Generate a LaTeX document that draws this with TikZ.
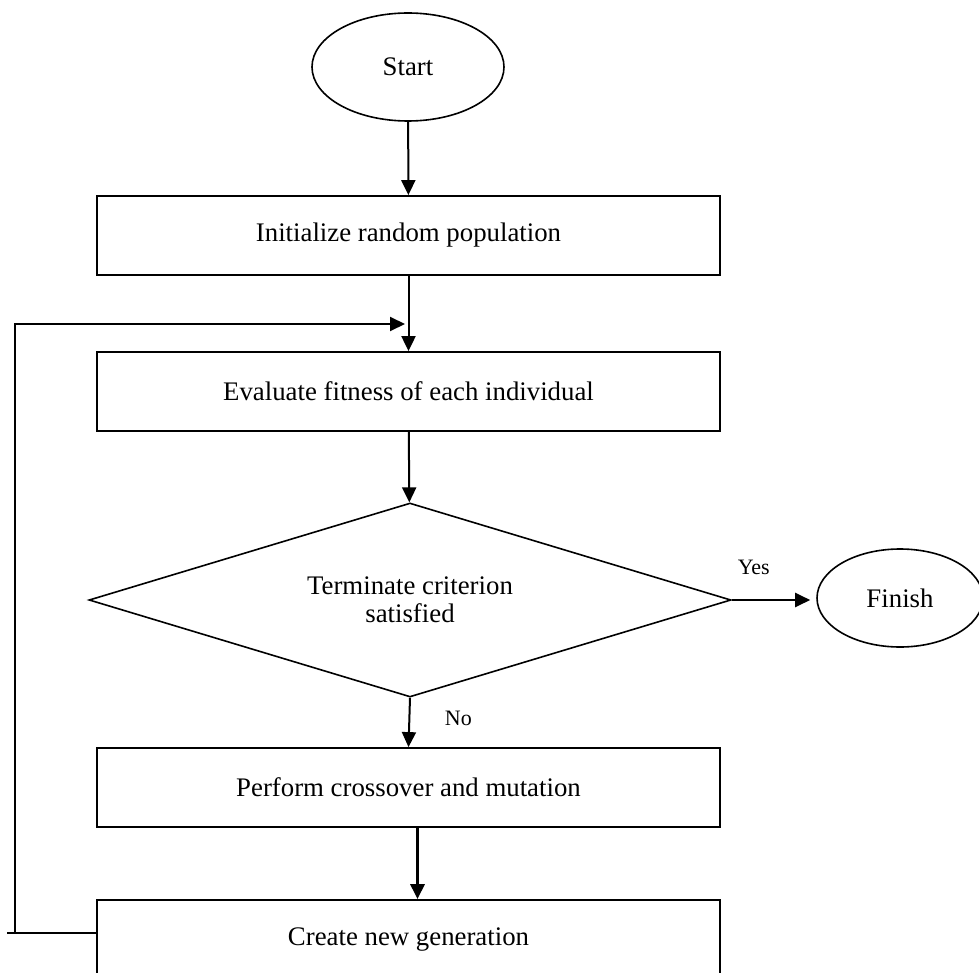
\documentclass[tikz,border=0pt]{standalone}
\usepackage{fontspec}
\setmainfont{Liberation Serif}
\usetikzlibrary{shapes.geometric,arrows.meta}
\tikzset{
  box/.style={draw,line width=0.9pt,minimum width=311.5pt,minimum height=39.5pt,font=\fontsize{13.4}{15}\selectfont},
  oval/.style={draw,ellipse,line width=0.8pt,font=\fontsize{13.4}{15}\selectfont},
  test/.style={draw,diamond,aspect=3.3,line width=0.8pt,minimum width=321pt,minimum height=97pt,inner sep=0pt,align=center,font=\fontsize{13.4}{15}\selectfont},
  arr/.style={line width=1pt,-{Triangle[length=7.5pt,width=7pt]}},
  lbl/.style={font=\fontsize{11}{13}\selectfont}
}
\begin{document}
\begin{tikzpicture}[x=0.5pt,y=-0.5pt]
\useasboundingbox (0,0) rectangle (979,973);
\begin{scope}
\clip (0,0) rectangle (979,973);
\node[oval,minimum width=96pt,minimum height=54pt] (start) at (408,67) {Start};
\node[box] (init) at (408.5,235.5) {Initialize random population};
\node[box] (eval) at (408.5,391.5) {Evaluate fitness of each individual};
\node[test] (term) at (410,600) {Terminate criterion\\[-1pt]satisfied};
\node[oval,minimum width=83pt,minimum height=49pt] (finish) at (900,598) {Finish};
\node[box] (cross) at (408.5,787.5) {Perform crossover and mutation};
\node[box] (newgen) at (408.5,939.5) {Create new generation};
\end{scope}
\coordinate (loopin) at (405,324);
\coordinate (loopout) at (7,933);
% main flow
\draw[arr] (start) -- (init);
\draw[arr] (init) -- (eval);
\draw[arr] (eval) -- (term);
\draw[arr] (term.east) -- ([xshift=-3pt]term.east -| finish.west) node[lbl,pos=0.28,above=9pt] {Yes};
\draw[arr] (term.south) -- (cross.north) node[lbl,midway,right=14pt,yshift=2pt] {No};
\draw[arr,line width=1.6pt] ([xshift=4.5pt]cross.south) -- ([xshift=4.5pt]newgen.north);
% loop back
\draw[line width=1pt] (newgen.west |- loopout) -- (loopout);
\draw[arr] (15,933) |- (loopin);
\end{tikzpicture}
\end{document}
